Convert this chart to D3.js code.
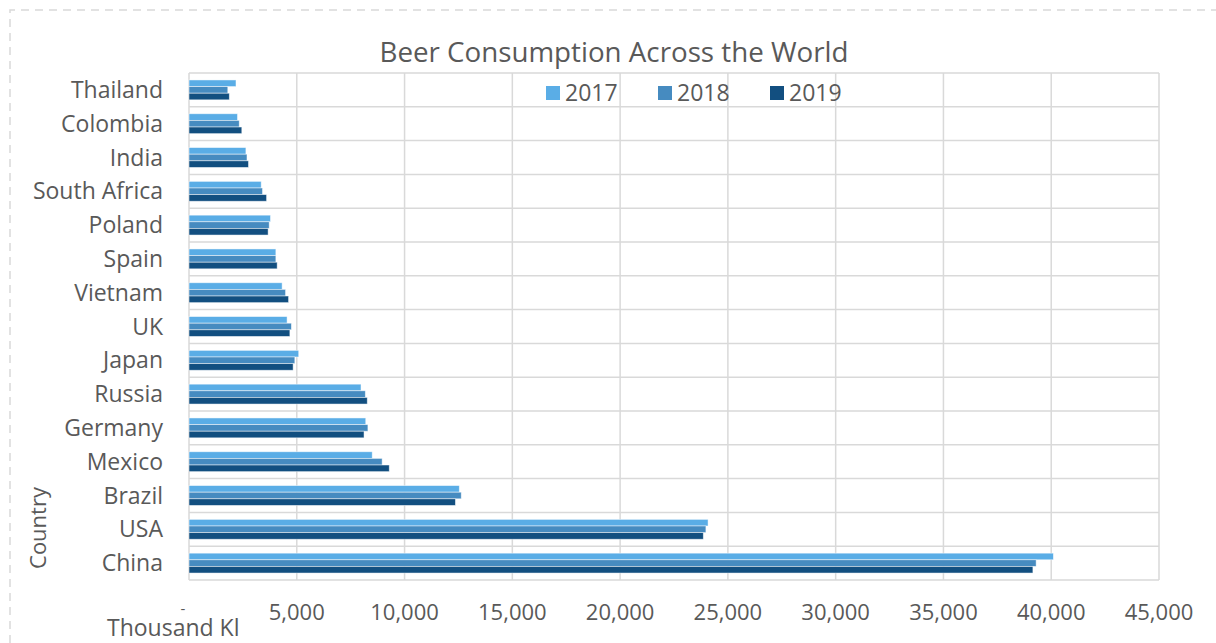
<!DOCTYPE html>
<html>
<head>
<meta charset="utf-8">
<script src="https://cdn.jsdelivr.net/npm/d3@7"></script>
<style>
  body { margin: 0; background: #fff; }
  svg text { font-family: "Open Sans", sans-serif; fill: #595959; }
</style>
</head>
<body>
<svg id="chart" width="1216" height="643"></svg>
<script>
// countries top to bottom as drawn
var countries = ['Thailand', 'Colombia', 'India', 'South Africa', 'Poland', 'Spain', 'Vietnam',
  'UK', 'Japan', 'Russia', 'Germany', 'Mexico', 'Brazil', 'USA', 'China'];
var years = ['2017', '2018', '2019'];
var v2017 = [2180, 2250, 2640, 3350, 3780, 4030, 4320, 4550, 5090, 7980, 8200, 8500, 12540, 24080, 40100];
var v2018 = [1800, 2330, 2690, 3410, 3720, 4030, 4480, 4750, 4910, 8180, 8300, 8960, 12630, 23980, 39300];
var v2019 = [1870, 2450, 2760, 3600, 3670, 4090, 4620, 4680, 4830, 8270, 8120, 9290, 12360, 23860, 39150];
var xTicks = [5000, 10000, 15000, 20000, 25000, 30000, 35000, 40000, 45000];
var colors = ['#5aade6', '#468bc0', '#124f80'];

var series = [v2017, v2018, v2019];

function drawChart() {
  var svg = d3.select('#chart');
  var plotLeft = 189, plotRight = 1159, plotTop = 73, plotBottom = 580;

  // dashed frame round the chart
  svg.append('path')
    .attr('d', 'M10,643 L10,10 L1216,10')
    .attr('fill', 'none')
    .attr('stroke', '#d9d9d9')
    .attr('stroke-width', 1.5)
    .attr('stroke-dasharray', '8,6');

  var x = d3.scaleLinear().domain([0, 45000]).range([plotLeft, plotRight]);
  var y = d3.scaleBand().domain(countries).range([plotTop, plotBottom]);
  var yInner = d3.scaleBand().domain(years).range([0, y.bandwidth()]).paddingOuter(1.05);

  // grid
  svg.append('g')
    .selectAll('line')
    .data([0].concat(xTicks))
    .enter()
    .append('line')
    .attr('x1', d => x(d)).attr('x2', d => x(d))
    .attr('y1', plotTop).attr('y2', plotBottom)
    .attr('stroke', '#d9d9d9')
    .attr('stroke-width', 1.5);

  svg.append('g')
    .selectAll('line')
    .data(countries.concat(['_end']))
    .enter()
    .append('line')
    .attr('x1', plotLeft).attr('x2', plotRight)
    .attr('y1', (d, i) => i < countries.length ? y(d) : plotBottom)
    .attr('y2', (d, i) => i < countries.length ? y(d) : plotBottom)
    .attr('stroke', '#d9d9d9')
    .attr('stroke-width', 1.5);

  // bars
  var rows = [];
  countries.forEach(function (c, i) {
    years.forEach(function (yr, j) {
      rows.push({country: c, year: yr, value: series[j][i], k: j});
    });
  });

  svg.append('g')
    .selectAll('rect')
    .data(rows)
    .enter()
    .append('rect')
    .attr('x', x(0))
    .attr('y', d => y(d.country) + yInner(d.year))
    .attr('width', d => x(d.value) - x(0))
    .attr('height', yInner.bandwidth())
    .attr('fill', d => colors[d.k])
    .attr('stroke', '#ffffff')
    .attr('stroke-opacity', 0.6)
    .attr('stroke-width', 0.8);

  // category labels
  svg.append('g')
    .selectAll('text')
    .data(countries)
    .enter()
    .append('text')
    .attr('x', 163)
    .attr('y', d => y(d) + y.bandwidth() / 2)
    .attr('dy', '0.35em')
    .attr('text-anchor', 'end')
    .style('font-size', '23px')
    .text(d => d);

  // x tick labels
  svg.append('g')
    .selectAll('text')
    .data(xTicks)
    .enter()
    .append('text')
    .attr('x', d => x(d))
    .attr('y', 620)
    .attr('text-anchor', 'middle')
    .style('font-size', '22px')
    .text(d => d3.format(',')(d));

  // zero shows as a dash
  svg.append('text')
    .attr('x', x(0) - 6)
    .attr('y', 614)
    .attr('text-anchor', 'middle')
    .style('font-size', '15px')
    .text('-');

  svg.append('text')
    .attr('x', 107)
    .attr('y', 636)
    .style('font-size', '23px')
    .text('Thousand Kl');

  svg.append('text')
    .attr('transform', 'translate(46,528) rotate(-90)')
    .attr('text-anchor', 'middle')
    .style('font-size', '22px')
    .text('Country');

  // title
  svg.append('text')
    .attr('x', 614)
    .attr('y', 62)
    .attr('text-anchor', 'middle')
    .attr('textLength', 469)
    .attr('lengthAdjust', 'spacingAndGlyphs')
    .style('font-size', '28px')
    .text('Beer Consumption Across the World');

  // legend
  var legendX = [546, 658, 770];
  var legend = svg.append('g')
    .selectAll('g')
    .data(years)
    .enter()
    .append('g')
    .attr('transform', (d, i) => 'translate(' + legendX[i] + ',86)');
  legend.append('rect')
    .attr('width', 14).attr('height', 14)
    .attr('fill', (d, i) => colors[i]);
  legend.append('text')
    .attr('x', 19)
    .attr('y', 15)
    .style('font-size', '23px')
    .text(d => d);
}

drawChart();
</script>
</body>
</html>
